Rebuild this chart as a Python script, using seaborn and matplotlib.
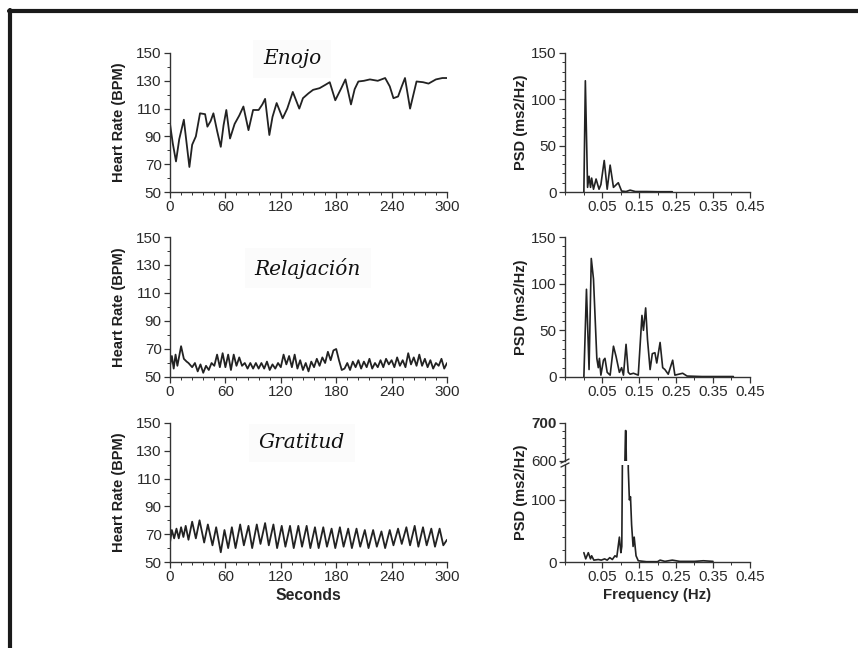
import numpy as np
import pandas as pd
import matplotlib
matplotlib.use("Agg")
import matplotlib.pyplot as plt
from matplotlib.ticker import MultipleLocator, FixedLocator
from matplotlib.lines import Line2D
import seaborn as sns

# ---------------- data ----------------
titles = ["Enojo", "Relajación", "Gratitud"]

enojo_t = [0, 3, 6.5, 10, 15, 18, 21, 24, 28, 32.5, 38, 40.5, 44, 47, 51, 55, 58, 61, 65, 70,
           75, 79.5, 85, 90, 96, 100, 103, 107.6, 111, 115.5, 122, 127, 133, 140, 144, 150, 155,
           162, 168, 173, 179, 185, 190, 196, 200, 204, 210, 216.5, 225, 233, 238, 242, 247, 251,
           254.5, 260, 267, 274, 280, 288, 295, 300]
enojo_hr = [99, 85, 72, 88, 102, 85, 68, 84, 90, 106.6, 106, 97, 101, 106.6, 94, 82.5, 98, 109, 88.5, 99,
            105, 111.5, 94.5, 109, 109, 113, 117, 91, 104, 114, 103, 110, 122, 110, 117.5, 121, 123.5,
            124.7, 127, 129, 116, 124, 131, 113, 124, 129.5, 130, 131, 130, 132, 126, 117.5, 118.7, 126,
            132, 110, 129.5, 129, 128, 131, 132, 132]

relax_t = [0, 2, 4, 6, 8, 12, 15, 18, 20, 24, 27, 30, 33, 36, 39, 42, 45, 48, 51, 54, 57, 60, 63, 66,
           69, 72, 75, 78, 81, 84, 87, 90, 93, 96, 99, 102, 105, 108, 111, 114, 117, 120, 123, 126,
           129, 132, 135, 138, 141, 144, 147, 150, 153, 156, 159, 162, 165, 168, 171, 174, 177, 180,
           183, 186, 189, 192, 195, 198, 201, 204, 207, 210, 213, 216, 219, 222, 225, 228, 231, 234,
           237, 240, 243, 246, 249, 252, 255, 258, 261, 264, 267, 270, 273, 276, 279, 282, 285, 288,
           291, 294, 297, 300]
relax_hr = [58, 65, 56, 66, 58, 72, 63, 61, 60, 57, 60, 54, 59, 53, 58, 55, 60, 58, 66, 57, 67, 57, 66, 55,
            66, 58, 64, 58, 60, 56, 60, 56, 60, 56, 60, 56, 61, 55, 59, 56, 60, 57, 66, 59,
            65, 57, 66, 56, 62, 55, 60, 54, 61, 57, 63, 58, 64, 60, 68, 62, 69, 70,
            62, 55, 56, 60, 55, 61, 57, 62, 56, 61, 57, 63, 56, 60, 57, 62, 57, 63,
            59, 62, 57, 64, 58, 62, 57, 67, 59, 64, 58, 66, 58, 63, 57, 62, 56, 60,
            58, 63, 56, 60]

grat_t = [0, 2, 4.5, 7, 9.5, 12, 14.5, 17, 20, 24, 28, 32, 37, 41, 46, 50, 55, 59, 63, 67, 71, 76, 80,
          85, 89, 94, 98, 103, 107, 112, 116, 121, 125, 130, 134, 139, 143, 148, 152, 157, 161, 166,
          170, 175, 179, 184, 188, 193, 197, 202, 206, 211, 215, 220, 224, 229, 233, 238, 242, 247,
          251, 256, 260, 265, 269, 274, 278, 283, 287, 292, 296, 300]
grat_hr = [64, 73, 67, 74, 67, 75, 68, 76, 66, 79, 67, 80, 64, 77, 62, 75, 57, 73, 60, 75, 60, 77, 62,
           76, 60, 77, 63, 78, 62, 77, 60, 76, 61, 76, 60, 76, 61, 76, 60, 75, 60, 75,
           61, 74, 60, 75, 61, 74, 60, 74, 61, 73, 60, 73, 61, 72, 60, 73, 62, 74,
           63, 75, 62, 76, 61, 75, 62, 74, 61, 74, 62, 66]

enojo_f = [0.001, 0.005, 0.011, 0.015, 0.019, 0.022, 0.027, 0.034, 0.042, 0.047, 0.056, 0.064, 0.072,
           0.081, 0.094, 0.103, 0.115, 0.126, 0.14, 0.17, 0.2, 0.24]
enojo_psd = [0, 120, 5, 17, 5, 15, 3, 14, 3, 8, 34, 3, 29, 5, 10, 1, 0.5, 2, 0.5, 0.5, 0.3, 0.3]

relax_f = [0.001, 0.008, 0.015, 0.021, 0.027, 0.036, 0.040, 0.043, 0.047, 0.054, 0.058, 0.064, 0.072,
           0.081, 0.088, 0.097, 0.103, 0.108, 0.115, 0.121, 0.126, 0.135, 0.148, 0.158, 0.162, 0.168,
           0.173, 0.180, 0.186, 0.193, 0.198, 0.207, 0.214, 0.220, 0.229, 0.241, 0.247, 0.268, 0.28,
           0.32, 0.36, 0.405]
relax_psd = [0, 94, 8, 127, 105, 20, 10, 20, 2, 18, 20, 5, 2, 33, 22, 5, 10, 2, 35, 5, 3, 4, 2, 66, 50, 74,
             40, 8, 25, 26, 15, 37, 10, 8, 3, 18, 2, 4, 1, 0.5, 0.5, 0.5]

grat_f = [0.001, 0.006, 0.013, 0.019, 0.022, 0.028, 0.04, 0.048, 0.057, 0.064, 0.071, 0.078, 0.085,
          0.090, 0.097, 0.101, 0.1035, 0.108, 0.1135, 0.1145, 0.119, 0.121, 0.124, 0.127, 0.130,
          0.134, 0.137, 0.142, 0.148, 0.17, 0.2, 0.207, 0.22, 0.24, 0.26, 0.3, 0.324, 0.35]
grat_psd = [15, 5, 15, 5, 10, 3, 4, 3, 5, 3, 7, 4, 10, 8, 40, 15, 25, 400, 680, 680, 400, 150, 100, 105, 60,
            25, 40, 10, 2, 0.5, 0.5, 3, 1, 3, 1, 1, 2, 1]

hr_series = [(enojo_t, enojo_hr), (relax_t, relax_hr), (grat_t, grat_hr)]
psd_series = [(enojo_f, enojo_psd), (relax_f, relax_psd), (grat_f, grat_psd)]

hr_xticks = [0, 60, 120, 180, 240, 300]
hr_yticks = [50, 70, 90, 110, 130, 150]
psd_xticks = [0.05, 0.15, 0.25, 0.35, 0.45]
psd_yticks = [0, 50, 100, 150]

# ---------------- style ----------------
sns.set_style("ticks")
plt.rcParams['font.family'] = ['Liberation Sans', 'DejaVu Sans']
plt.rcParams['axes.edgecolor'] = '#333333'
plt.rcParams['xtick.color'] = '#333333'
plt.rcParams['ytick.color'] = '#333333'
plt.rcParams['xtick.labelcolor'] = '#2a2a2a'
plt.rcParams['ytick.labelcolor'] = '#2a2a2a'
plt.rcParams['text.color'] = '#1e1e1e'

W, H = 858, 648
fig = plt.figure(figsize=(W / 100, H / 100), dpi=100)
fig.patch.set_facecolor('white')

def fx(px):
    return px / W

def fy(py):
    return 1 - py / H

LINE = '#222222'
TICK_FS = 11
LAB_FS = 10.5

rows_px = [(53, 192), (237, 377), (423, 562)]
left_x = (170, 447)
right_x = (565, 750)
title_pos = [(292, 59), (308, 268), (302, 443)]
HR_LAB_X = 119
PSD_LAB_X = 521

def style_ax(ax):
    for s in ['top', 'right']:
        ax.spines[s].set_visible(False)
    for s in ['left', 'bottom']:
        ax.spines[s].set_linewidth(1.0)
    ax.tick_params(which='major', direction='out', length=4, width=0.9, labelsize=TICK_FS, pad=2)
    ax.tick_params(which='minor', direction='out', length=2, width=0.7)
    ax.set_facecolor('none')

for i, (top, bot) in enumerate(rows_px):
    # ---- heart rate panel ----
    ax = fig.add_axes([fx(left_x[0]), fy(bot), fx(left_x[1] - left_x[0]), (bot - top) / H])
    t, v = hr_series[i]
    sns.lineplot(x=t, y=v, ax=ax, color=LINE, linewidth=1.3, estimator=None, sort=False)
    ax.set_xlim(0, 300)
    ax.set_ylim(50, 150)
    ax.xaxis.set_major_locator(FixedLocator(hr_xticks))
    ax.xaxis.set_minor_locator(MultipleLocator(12))
    ax.yaxis.set_major_locator(FixedLocator(hr_yticks))
    ax.yaxis.set_minor_locator(MultipleLocator(10))
    style_ax(ax)
    ax.set_ylabel("")
    fig.text(fx(HR_LAB_X), fy((top + bot) / 2), "Heart Rate (BPM)", rotation=90, ha='center',
             va='center', fontsize=LAB_FS, fontweight='bold')
    if i == 2:
        ax.set_xlabel("Seconds", fontsize=LAB_FS + 0.8, fontweight='bold', labelpad=3)
    else:
        ax.set_xlabel("")
    tx, ty = title_pos[i]
    fig.text(fx(tx), fy(ty), titles[i], ha='center', va='center', fontsize=14.5,
             family='DejaVu Serif', style='italic', color='#111111',
             bbox=dict(facecolor='#fbfbfb', edgecolor='none', pad=7))

    # ---- PSD panel ----
    f, p = psd_series[i]
    if i < 2:
        ax2 = fig.add_axes([fx(right_x[0]), fy(bot), fx(right_x[1] - right_x[0]), (bot - top) / H])
        sns.lineplot(x=f, y=p, ax=ax2, color=LINE, linewidth=1.2, estimator=None, sort=False)
        ax2.set_ylim(0, 150)
        ax2.yaxis.set_major_locator(FixedLocator(psd_yticks))
        ax2.yaxis.set_minor_locator(MultipleLocator(10))
        lower = ax2
    else:
        brk_top, brk_bot = 461, 465
        lower = fig.add_axes([fx(right_x[0]), fy(bot), fx(right_x[1] - right_x[0]), (bot - brk_bot) / H])
        upper = fig.add_axes([fx(right_x[0]), fy(brk_top), fx(right_x[1] - right_x[0]), (brk_top - top) / H])
        for a in (lower, upper):
            sns.lineplot(x=f, y=p, ax=a, color=LINE, linewidth=1.2, estimator=None, sort=False)
        lower.set_ylim(0, 156)
        lower.yaxis.set_major_locator(FixedLocator([0, 100]))
        lower.yaxis.set_minor_locator(MultipleLocator(20))
        upper.set_ylim(600, 700)
        upper.set_xlim(-0.05, 0.45)
        upper.yaxis.set_major_locator(FixedLocator([600, 700]))
        upper.yaxis.set_minor_locator(MultipleLocator(20))
        style_ax(upper)
        upper.spines['bottom'].set_visible(False)
        upper.tick_params(axis='x', which='both', bottom=False, labelbottom=False)
        upper.set_xlabel("")
        upper.set_ylabel("")
        for lab in upper.get_yticklabels():
            if lab.get_text() == '700':
                lab.set_fontweight('bold')
        # break marks on the y axis
        xb = fx(right_x[0])
        for yb in (brk_top, brk_bot):
            fig.add_artist(Line2D([xb - 4 / W, xb + 4 / W], [fy(yb + 2), fy(yb - 2)],
                                  color='#333333', linewidth=1.0))
    lower.set_ylabel("")
    fig.text(fx(PSD_LAB_X), fy((top + bot) / 2), "PSD (ms2/Hz)", rotation=90, ha='center',
             va='center', fontsize=LAB_FS, fontweight='bold')
    lower.set_xlim(-0.05, 0.45)
    lower.xaxis.set_major_locator(FixedLocator(psd_xticks))
    lower.xaxis.set_minor_locator(FixedLocator([-0.05, 0.0, 0.1, 0.2, 0.3, 0.4]))
    style_ax(lower)
    lower.set_xticklabels([f"{x:.2f}" for x in psd_xticks])
    if i == 2:
        lower.set_xlabel("Frequency (Hz)", fontsize=LAB_FS + 0.3, fontweight='bold', labelpad=3)
    else:
        lower.set_xlabel("")

# partial dark frame (top and left edges) as in the reference
fig.add_artist(Line2D([fx(10), fx(10)], [fy(9.5), 0], color='#1a1a1a', linewidth=3.0))
fig.add_artist(Line2D([fx(8.5), 1], [fy(11), fy(11)], color='#1a1a1a', linewidth=3.0))

fig.savefig("out.png", dpi=100, facecolor='white')
